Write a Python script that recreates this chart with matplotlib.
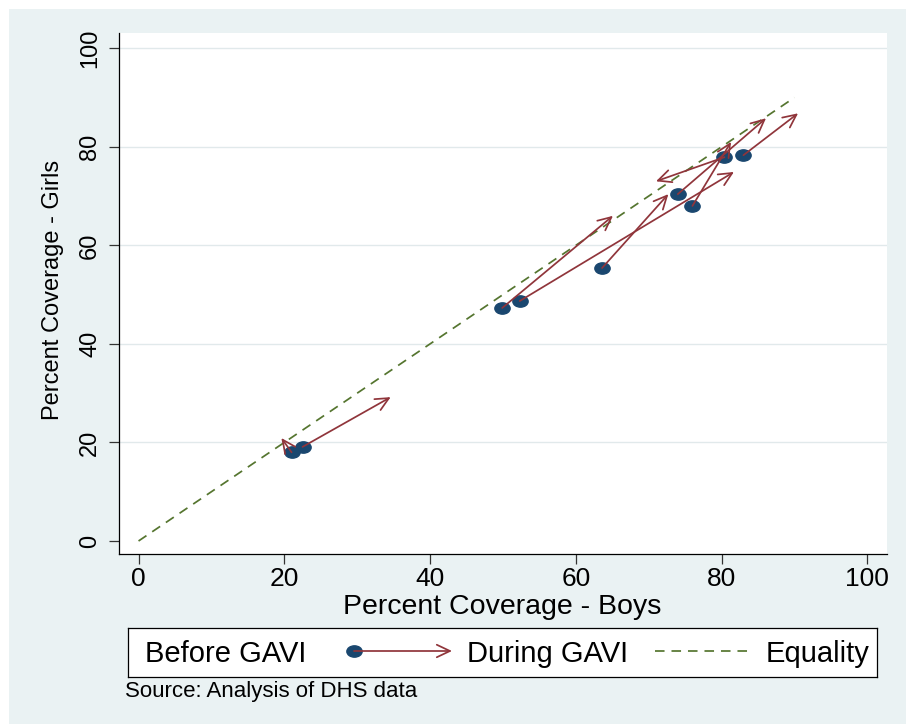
import matplotlib
matplotlib.use('Agg')
import matplotlib.pyplot as plt
from matplotlib.path import Path
from matplotlib.transforms import Affine2D
from matplotlib.patches import Rectangle

plt.rcParams['font.family'] = ['Liberation Sans', 'DejaVu Sans']

# coverage before GAVI (dots) and during GAVI (arrow tips)
boys_before = [21.0, 22.5, 49.9, 52.3, 63.6, 74.0, 76.0, 80.4, 83.0]
girls_before = [18.0, 19.1, 47.3, 48.7, 55.4, 70.4, 68.0, 77.9, 78.3]
boys_during = [19.6, 34.6, 65.1, 81.7, 72.7, 86.1, 81.3, 71.0, 90.5]
girls_during = [20.9, 29.2, 66.0, 74.9, 70.4, 85.8, 81.0, 73.0, 86.8]

equality = [0, 90]
ticks = [0, 20, 40, 60, 80, 100]

navy = '#1A476F'
maroon = '#90353B'
green = '#55752F'
bg = '#EAF2F3'

W, H = 906, 724
fig = plt.figure(figsize=(W / 100, H / 100), dpi=100, facecolor='white')
fig.patches.append(Rectangle((9 / W, 0), 1, 1 - 9 / H, transform=fig.transFigure,
                             facecolor=bg, edgecolor='none', zorder=-10))

dot = Path.unit_circle().transformed(Affine2D().scale(1.35, 1.0))

ax = fig.add_axes([118.5 / W, 1 - 554 / H, (887 - 118.5) / W, (554 - 33) / H])
ax.set_facecolor('white')
ax.set_xlim(-2.75, 102.7)
ax.set_ylim(-2.64, 103.1)

for t in ticks[1:]:
    ax.axhline(t, color='#E1E9EB', lw=1.0, zorder=0)

ax.plot(equality, equality, color=green, lw=1.25, linestyle=(0, (5.5, 4)), zorder=1)
ax.plot(boys_before, girls_before, linestyle='none', marker=dot, markersize=11,
        color=navy, zorder=2)
for x0, y0, x1, y1 in zip(boys_before, girls_before, boys_during, girls_during):
    ax.annotate('', xy=(x1, y1), xytext=(x0, y0),
                arrowprops=dict(arrowstyle='->,head_length=0.95,head_width=0.45',
                                mutation_scale=10, shrinkA=0, shrinkB=0,
                                color=maroon, lw=1.25), zorder=3)

for s in ['top', 'right']:
    ax.spines[s].set_visible(False)
for s in ['left', 'bottom']:
    ax.spines[s].set_linewidth(0.9)
ax.set_xticks(ticks)
ax.set_yticks(ticks)
ax.set_xticklabels([str(t) for t in ticks], fontsize=19)
ax.set_yticklabels([str(t) for t in ticks], fontsize=17, rotation=90, va='center')
ax.tick_params(axis='both', length=7.5, width=0.9, color='#333333')
ax.tick_params(axis='x', pad=2)
ax.tick_params(axis='y', pad=5)

fig.text(502 / W, 1 - 607 / H, 'Percent Coverage - Boys', fontsize=20.5,
         ha='center', va='center')
fig.text(53 / W, 1 - 290 / H, 'Percent Coverage - Girls', fontsize=17,
         ha='center', va='center', rotation=90)

# legend box, drawn in pixel units
lax = fig.add_axes([128 / W, 1 - 677 / H, 749 / W, 49 / H])
lax.set_xlim(128, 877)
lax.set_ylim(677, 628)
lax.set_xticks([])
lax.set_yticks([])
lax.set_facecolor('white')
for s in lax.spines.values():
    s.set_linewidth(0.9)
lax.text(145, 654, 'Before GAVI', fontsize=21, ha='left', va='center')
lax.plot([354], [651], linestyle='none', marker=dot, markersize=11, color=navy)
lax.annotate('', xy=(452, 651), xytext=(354, 651),
             arrowprops=dict(arrowstyle='->,head_length=0.95,head_width=0.45',
                             mutation_scale=10, shrinkA=0, shrinkB=0,
                             color=maroon, lw=1.25))
lax.text(467, 654, 'During GAVI', fontsize=21, ha='left', va='center')
lax.plot([655, 752], [651, 651], color=green, lw=1.25, linestyle=(0, (5.5, 4)))
lax.text(766, 654, 'Equality', fontsize=21, ha='left', va='center')

fig.text(125 / W, 1 - 691 / H, 'Source: Analysis of DHS data', fontsize=16,
         ha='left', va='center')

fig.savefig('out.png', dpi=100, facecolor=fig.get_facecolor())
